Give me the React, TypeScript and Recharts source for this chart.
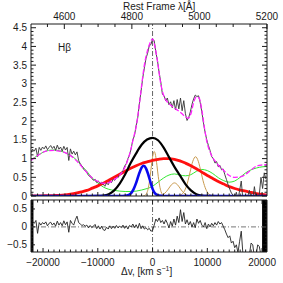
import React from 'react'
import { LineChart, Line, XAxis, YAxis, ReferenceLine, ReferenceArea } from 'recharts'

const FONT = '"Liberation Sans", Arial, Helvetica, sans-serif'
const INK = '#1a1a1a'

// velocity range of the plot (km/s) and the matching rest-frame wavelength range
const V_MIN = -22200
const V_MAX = 20900
const LAMBDA_HB = 4861.3
const C_KMS = 299792.458
const toLambda = (v: number) => LAMBDA_HB * (1 + v / C_KMS)
const lamMin = toLambda(V_MIN)
const lamMax = toLambda(V_MAX)

// axis labels
const velLabels = [-20000, -10000, 0, 10000, 20000]
const lamLabels = [4600, 4800, 5000, 5200]
const fluxLabels = [0, 0.5, 1, 1.5, 2, 2.5, 3, 3.5, 4, 4.5]
const residLabels = [-0.5, 0, 0.5]

// observed spectrum, 300 km/s bins starting at -22200 km/s
const specStart = -22200
const specStep = 300
const fluxValues = [
  1.16, 1.25, 1.2, 1.28, 1.05, 1.3, 1.22, 1.31, 1.26, 1.34,
  1.24, 1.3, 1.35, 1.27, 1.33, 1.22, 1.36, 1.25, 1.31, 1.2,
  1.33, 1.23, 1.3, 0.95, 1.26, 1.12, 1.2, 1.1, 1.18, 0.95,
  0.86, 0.8, 0.72, 0.67, 0.63, 0.55, 0.52, 0.47, 0.42, 0.45,
  0.36, 0.4, 0.33, 0.37, 0.31, 0.26, 0.35, 0.3, 0.4, 0.36,
  0.45, 0.42, 0.5, 0.49, 0.57, 0.62, 0.68, 0.8, 0.86, 1.0,
  1.1, 1.28, 1.5, 1.62, 1.88, 2.1, 2.48, 2.8, 3.15, 3.42,
  3.68, 3.82, 4.02, 4.05, 4.2, 4.15, 3.85, 3.62, 3.3, 3.05,
  2.72, 2.68, 2.55, 2.62, 2.44, 2.52, 2.36, 2.55, 2.3, 2.58,
  2.33, 2.62, 2.28, 2.55, 2.2, 2.02, 2.1, 2.25, 2.45, 2.6,
  2.7, 2.66, 2.68, 2.5, 2.25, 1.95, 1.7, 1.5, 1.35, 1.22,
  1.05, 1.0, 0.88, 0.92, 0.78, 0.82, 0.7, 0.72, 0.57, 0.44,
  0.3, 0.18, 0.08, 0.02, -0.05, 0.1, -0.1, 0.15, 0.4, -0.1,
  -0.08, -0.1, 0.0, 0.15, -0.1, -0.1, 0.25, -0.05, -0.1, 0.05,
  0.5, 0.2, 0.62, 0.45,
]
const residValues = [
  0.2, 0.15, 0.1, 0.18, -0.18, 0.12, 0.05, 0.12, 0.08, 0.14,
  0.03, 0.1, 0.13, 0.05, 0.11, 0.02, 0.16, 0.05, 0.12, 0.03,
  0.17, 0.06, 0.14, -0.15, 0.18, 0.1, 0.05, 0.2, 0.3, 0.12,
  0.08, 0.04, 0.06, 0.02, 0.05, -0.03, 0.04, -0.02, 0.02, 0.07,
  -0.05, 0.03, -0.06, 0.02, -0.08, -0.1, -0.01, -0.06, 0.03, -0.05,
  0.02, -0.04, 0.04, -0.03, 0.02, -0.02, 0.05, -0.04, 0.03, -0.06,
  0.04, 0.0, 0.08, -0.02, 0.06, -0.04, 0.1, -0.05, 0.03, -0.06,
  -0.02, -0.08, -0.04, -0.12, -0.1, 0.05, 0.22, 0.15, 0.25, 0.12,
  0.18, 0.08, 0.2, 0.1, -0.03, 0.15, 0.02, 0.22, 0.05, 0.3,
  0.12, 0.48, 0.15, 0.4, 0.08, 0.2, 0.05, 0.15, 0.0, 0.12,
  -0.02, 0.22, 0.1, 0.18, 0.05, 0.0, 0.12, -0.05, 0.08, 0.0,
  0.1, 0.03, 0.12, 0.05, 0.15, 0.08, 0.12, 0.02, -0.08, -0.2,
  -0.3, -0.25, -0.45, -0.4, -0.58, -0.5, -0.72, -0.4, -0.12, -0.75,
  -0.82, -0.85, -0.85, -0.75, -0.45, -0.5, -0.85, -0.8, -0.5, -0.55,
  -0.8, -0.75, -0.85, -0.8,
]

// total fit (magenta)
const fitV = [
  -22200, -21000, -20000, -19000, -18000, -17000, -16000, -15000, -14000, -13000,
  -12000, -11000, -10000, -9000, -8000, -7000, -6000, -5000, -4500, -4000,
  -3500, -3000, -2500, -2000, -1500, -1000, -500, 0, 500, 1000,
  1500, 2000, 2500, 3000, 4000, 5000, 6000, 6500, 7000, 7500,
  8000, 8500, 9000, 9500, 10000, 10500, 11000, 11500, 12000, 13000,
  14000, 15000, 16000, 17000, 18000, 19000, 20000, 20900,
]
const fitY = [
  0.95, 1.08, 1.17, 1.21, 1.22, 1.2, 1.16, 1.08, 0.96, 0.8,
  0.63, 0.48, 0.39, 0.34, 0.36, 0.44, 0.56, 0.78, 0.98, 1.22,
  1.55, 1.85, 2.35, 2.95, 3.5, 3.85, 4.08, 4.2, 3.95, 3.5,
  3.0, 2.7, 2.55, 2.47, 2.35, 2.25, 2.12, 2.08, 2.2, 2.5,
  2.65, 2.62, 2.3, 1.8, 1.4, 1.18, 1.02, 0.92, 0.83, 0.68,
  0.55, 0.5, 0.51, 0.58, 0.7, 0.8, 0.83, 0.84,
]

// Fe II template (green)
const feV = [
  -22200, -21000, -20000, -19000, -18000, -17000, -16000, -15000, -14000, -13000,
  -12000, -11000, -10000, -9000, -8000, -7000, -6000, -5000, -4000, -3000,
  -2000, -1000, 0, 1000, 2000, 3000, 4000, 5000, 6000, 7000,
  8000, 9000, 10000, 11000, 12000, 13000, 14000, 15000, 16000, 17000,
  18000, 19000, 20000, 20900,
]
const feY = [
  0.97, 1.08, 1.17, 1.22, 1.23, 1.21, 1.16, 1.09, 0.98, 0.82,
  0.66, 0.48, 0.35, 0.24, 0.18, 0.15, 0.13, 0.12, 0.12, 0.13,
  0.16, 0.2, 0.26, 0.37, 0.48, 0.56, 0.59, 0.56, 0.54, 0.57,
  0.66, 0.71, 0.68, 0.6, 0.49, 0.41, 0.37, 0.4, 0.5, 0.62,
  0.7, 0.75, 0.78, 0.79,
]

// very broad component (red)
const vbcV = [
  -22200, -20000, -18000, -17000, -16000, -15000, -14000, -13000, -12000, -11000,
  -10000, -9000, -8000, -7000, -6000, -5000, -4000, -3000, -2000, -1000,
  0, 1000, 2000, 3000, 4000, 5000, 6000, 7000, 8000, 9000,
  10000, 11000, 12000, 13000, 14000, 15000, 16000, 17000, 18000, 19000,
  20000, 20900,
]
const vbcY = [
  0.003, 0.006, 0.012, 0.018, 0.03, 0.05, 0.075, 0.11, 0.15, 0.21,
  0.27, 0.34, 0.42, 0.5, 0.58, 0.66, 0.74, 0.81, 0.87, 0.91,
  0.95, 0.98, 1.0, 1.0, 0.98, 0.94, 0.88, 0.81, 0.73, 0.64,
  0.55, 0.47, 0.39, 0.32, 0.25, 0.2, 0.16, 0.13, 0.095, 0.065,
  0.04, 0.025,
]

// broad component (black)
const bcV = [-12000, -10000, -9000, -8000, -7000, -6000, -5000, -4000, -3000, -2000, -1000, 0, 1000, 2000, 3000, 4000, 5000, 6000, 7000, 8000, 9000, 10000, 12000]
const bcY = [0, 0.003, 0.012, 0.05, 0.15, 0.33, 0.58, 0.88, 1.14, 1.37, 1.51, 1.555, 1.49, 1.3, 1.04, 0.78, 0.55, 0.32, 0.15, 0.05, 0.012, 0.003, 0]

// blueshifted component (blue)
const blueV = [-22200, -6000, -5000, -4500, -4000, -3500, -3000, -2500, -2000, -1600, -1200, -800, -400, 0, 400, 800, 1200, 1600, 2000, 3000, 20900]
const blueY = [0, 0, 0.005, 0.02, 0.065, 0.17, 0.35, 0.58, 0.76, 0.81, 0.74, 0.58, 0.38, 0.19, 0.08, 0.03, 0.01, 0.003, 0, 0, 0]

// narrow lines (tan)
const nlHbV = [-1700, -1450, -1200, -950, -700, -450, -200, 50, 300, 550, 800, 1050, 1300, 1550, 1800, 2050, 2300]
const nlHbY = [0.003, 0.013, 0.042, 0.117, 0.27, 0.516, 0.82, 1.084, 1.19, 1.084, 0.82, 0.516, 0.27, 0.117, 0.042, 0.013, 0.003]
const nlMidV = [1000, 1500, 2000, 2500, 3000, 3500, 4000, 4500, 5000, 5500, 6000, 6500, 7000]
const nlMidY = [0.004, 0.015, 0.047, 0.114, 0.212, 0.309, 0.35, 0.309, 0.212, 0.114, 0.047, 0.015, 0.004]
const nlOiiiV = [4350, 4850, 5350, 5850, 6350, 6850, 7350, 7850, 8350, 8850, 9350, 9850, 10350, 10850, 11350]
const nlOiiiY = [0.002, 0.012, 0.046, 0.142, 0.34, 0.64, 0.93, 1.05, 0.93, 0.64, 0.34, 0.142, 0.046, 0.012, 0.002]

const rows = (xs: number[], ys: number[]) => xs.map((v, i) => ({ v, y: ys[i] }))
const specRows = (ys: number[]) => ys.map((y, i) => ({ v: specStart + i * specStep, y }))

const spectrum = specRows(fluxValues)
const residuals = specRows(residValues)
// same spectrum on the wavelength axis (never drawn, only gives the top axis its data)
const spectrumLam = spectrum.map((r) => ({ lam: toLambda(r.v), y: r.y }))

const range = (a: number, b: number, s: number) => {
  const out: number[] = []
  for (let k = 0; a + k * s <= b + 1e-9; k++) out.push(Math.round((a + k * s) * 1000) / 1000)
  return out
}
const velTicks = range(-22000, 20000, 1000)
const lamTicks = range(4550, 5200, 50)
const fluxTicks = range(0, 4.5, 0.1)
const residTicks = range(-0.6, 0.7, 0.1)

const fmt = (v: number) => String(v).replace('-', '\u2212')

type Side = 'left' | 'right' | 'top' | 'bottom'

// ticks drawn inside the frame, labels outside
const makeTick = (side: Side, labels: number[], showLabel: boolean, major = 5, minor = 2.5) => (props: any) => {
  const { x, y, payload } = props
  const v = payload.value as number
  const isMajor = labels.some((l) => Math.abs(l - v) < 1e-6)
  const len = isMajor ? major : minor
  let line = null
  let label = null
  const txt = { fontSize: 10, fontFamily: FONT, fill: INK }
  if (side === 'left') {
    line = <line x1={x} x2={x + len} y1={y} y2={y} stroke={INK} />
    if (showLabel && isMajor) label = <text x={x - 4} y={y + 3.5} textAnchor="end" {...txt}>{fmt(v)}</text>
  } else if (side === 'right') {
    line = <line x1={x} x2={x - len} y1={y} y2={y} stroke={INK} />
  } else if (side === 'top') {
    line = <line x1={x} x2={x} y1={y} y2={y + len} stroke={INK} />
    if (showLabel && isMajor) label = <text x={x} y={y - 4.5} textAnchor="middle" {...txt}>{fmt(v)}</text>
  } else {
    line = <line x1={x} x2={x} y1={y} y2={y - len} stroke={INK} />
    if (showLabel && isMajor) label = <text x={x} y={y + 13.5} textAnchor="middle" {...txt}>{fmt(v)}</text>
  }
  return (
    <g>
      {line}
      {label}
    </g>
  )
}

const DASHDOT = '5 2 1 2'
const TAN = '#c99a4e'

// axes are 1px thick so Recharts still renders them; margins are reduced by that 1px
function FluxPanel() {
  return (
    <LineChart width={283} height={283} margin={{ top: 23, right: 15, bottom: 86, left: 30 }}>
      <XAxis xAxisId="v" dataKey="v" type="number" domain={[V_MIN, V_MAX]} allowDataOverflow
        ticks={velTicks} interval={0} height={1} tickSize={0} tickMargin={0}
        axisLine={{ stroke: INK }} tickLine={false} tick={makeTick('bottom', velLabels, false, 4, 2.5)} />
      <XAxis xAxisId="lam" dataKey="lam" orientation="top" type="number" domain={[lamMin, lamMax]} allowDataOverflow
        ticks={lamTicks} interval={0} height={1} tickSize={0} tickMargin={0}
        axisLine={{ stroke: INK }} tickLine={false} tick={makeTick('top', lamLabels, true, 5, 3)} />
      <YAxis yAxisId="f" type="number" domain={[0, 4.6]} allowDataOverflow
        ticks={fluxTicks} interval={0} width={1} tickSize={0} tickMargin={0}
        axisLine={{ stroke: INK }} tickLine={false} tick={makeTick('left', fluxLabels, true, 5, 2.5)} />
      <YAxis yAxisId="fr" orientation="right" type="number" domain={[0, 4.6]} allowDataOverflow
        ticks={fluxTicks} interval={0} width={1} tickSize={0} tickMargin={0}
        axisLine={{ stroke: INK }} tickLine={false} tick={makeTick('right', fluxLabels, false, 5, 2.5)} />

      <ReferenceLine xAxisId="v" yAxisId="f" x={0} stroke="#666" strokeDasharray={DASHDOT} />

      <Line xAxisId="lam" yAxisId="f" data={spectrumLam} dataKey="y" type="linear" stroke="none" dot={false} activeDot={false} isAnimationActive={false} />

      <Line xAxisId="v" yAxisId="f" data={rows(feV, feY)} dataKey="y" type="monotone" stroke="#33e833" strokeWidth={1} dot={false} isAnimationActive={false} />
      <Line xAxisId="v" yAxisId="f" data={rows(nlHbV, nlHbY)} dataKey="y" type="monotone" stroke={TAN} strokeWidth={1} dot={false} isAnimationActive={false} />
      <Line xAxisId="v" yAxisId="f" data={rows(nlMidV, nlMidY)} dataKey="y" type="monotone" stroke={TAN} strokeWidth={1} dot={false} isAnimationActive={false} />
      <Line xAxisId="v" yAxisId="f" data={rows(nlOiiiV, nlOiiiY)} dataKey="y" type="monotone" stroke={TAN} strokeWidth={1} dot={false} isAnimationActive={false} />
      <Line xAxisId="v" yAxisId="f" data={rows(vbcV, vbcY)} dataKey="y" type="monotone" stroke="#ff1010" strokeWidth={2.8} dot={false} isAnimationActive={false} />
      <Line xAxisId="v" yAxisId="f" data={rows(bcV, bcY)} dataKey="y" type="monotone" stroke="#000000" strokeWidth={2.2} dot={false} isAnimationActive={false} />
      <Line xAxisId="v" yAxisId="f" data={rows(blueV, blueY)} dataKey="y" type="monotone" stroke="#0a0aee" strokeWidth={2.6} dot={false} isAnimationActive={false} />
      <Line xAxisId="v" yAxisId="f" data={spectrum} dataKey="y" type="linear" stroke="#333" strokeWidth={0.9} dot={false} isAnimationActive={false} />
      <Line xAxisId="v" yAxisId="f" data={rows(fitV, fitY)} dataKey="y" type="monotone" stroke="#ff22ff" strokeWidth={1.3} strokeDasharray="5 2" dot={false} isAnimationActive={false} />
    </LineChart>
  )
}

function ResidualPanel() {
  return (
    <LineChart width={283} height={283} margin={{ top: 199, right: 15, bottom: 30, left: 30 }}>
      <XAxis xAxisId="v" dataKey="v" type="number" domain={[V_MIN, V_MAX]} allowDataOverflow
        ticks={velTicks} interval={0} height={1} tickSize={0} tickMargin={0}
        axisLine={{ stroke: INK }} tickLine={false} tick={makeTick('bottom', velLabels, true, 4, 2.5)} />
      <XAxis xAxisId="vt" dataKey="v" orientation="top" type="number" domain={[V_MIN, V_MAX]} allowDataOverflow
        ticks={velTicks} interval={0} height={1} tickSize={0} tickMargin={0}
        axisLine={{ stroke: INK }} tickLine={false} tick={makeTick('top', velLabels, false, 4, 2.5)} />
      <YAxis yAxisId="r" type="number" domain={[-0.7, 0.75]} allowDataOverflow
        ticks={residTicks} interval={0} width={1} tickSize={0} tickMargin={0}
        axisLine={{ stroke: INK }} tickLine={false} tick={makeTick('left', residLabels, true, 4, 2)} />
      <YAxis yAxisId="rr" orientation="right" type="number" domain={[-0.7, 0.75]} allowDataOverflow
        ticks={residTicks} interval={0} width={1} tickSize={0} tickMargin={0}
        axisLine={{ stroke: INK }} tickLine={false} tick={makeTick('right', residLabels, false, 4, 2)} />

      <ReferenceLine xAxisId="v" yAxisId="r" x={0} stroke="#666" strokeDasharray={DASHDOT} />
      <ReferenceLine xAxisId="v" yAxisId="r" y={0} stroke="#777" strokeDasharray={DASHDOT} />

      <Line xAxisId="vt" yAxisId="r" data={residuals} dataKey="y" type="linear" stroke="none" dot={false} activeDot={false} isAnimationActive={false} />
      <Line xAxisId="v" yAxisId="r" data={residuals} dataKey="y" type="linear" stroke="#222" strokeWidth={0.9} dot={false} isAnimationActive={false} />

      <ReferenceArea xAxisId="v" yAxisId="r" x1={V_MIN} x2={-21750} fill="#000" fillOpacity={1} stroke="none" />
      <ReferenceArea xAxisId="v" yAxisId="r" x1={20000} x2={V_MAX} fill="#000" fillOpacity={1} stroke="none" />
    </LineChart>
  )
}

export default function App() {
  const txt = { fontFamily: FONT, fill: INK }
  return (
    <div style={{ position: 'absolute', left: 0, top: 0, width: 283, height: 283, background: '#fff' }}>
      <div style={{ position: 'absolute', left: 0, top: 0 }}>
        <FluxPanel />
      </div>
      <div style={{ position: 'absolute', left: 0, top: 0 }}>
        <ResidualPanel />
      </div>
      <svg width={283} height={283} style={{ position: 'absolute', left: 0, top: 0, pointerEvents: 'none' }}>
        <text x={123} y={9.5} fontSize={10} {...txt}>Rest Frame λ[Å]</text>
        <text x={58} y={51} fontSize={10} {...txt}>Hβ</text>
        <text x={121} y={275} fontSize={10} {...txt}>
          Δv, [km s<tspan dy={-4} fontSize={7}>−1</tspan><tspan dy={4}>]</tspan>
        </text>
      </svg>
    </div>
  )
}
